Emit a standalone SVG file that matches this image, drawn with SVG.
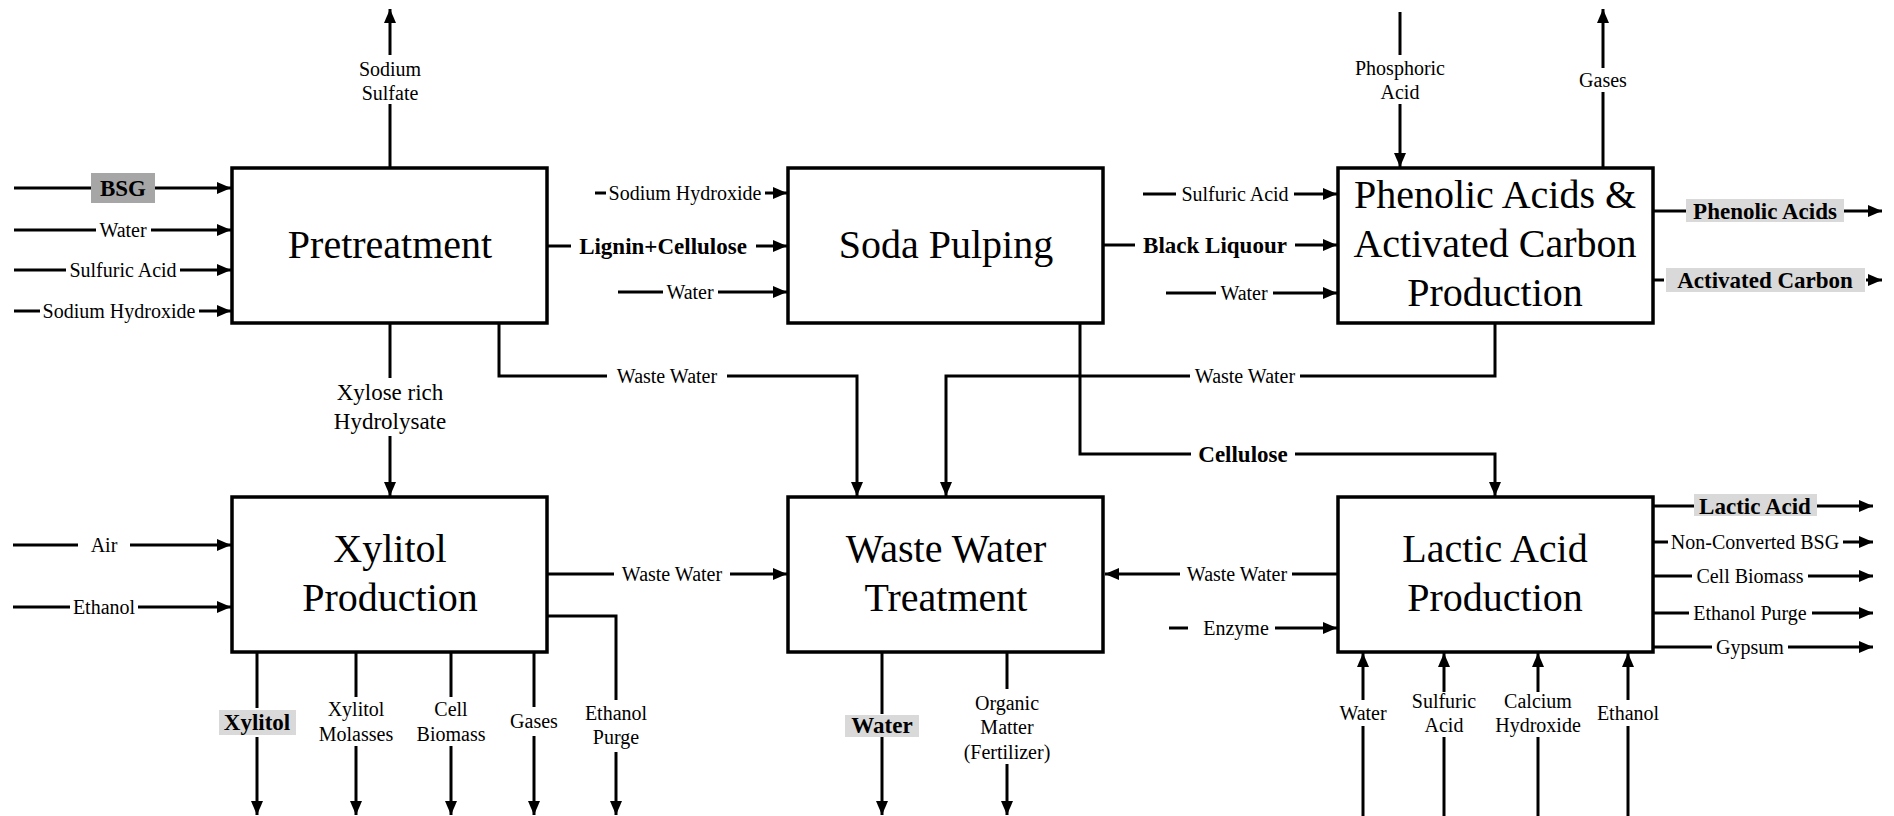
<svg xmlns="http://www.w3.org/2000/svg" width="1894" height="816" viewBox="0 0 1894 816">
<style>
text{font-family:"Liberation Serif","Times New Roman",serif;fill:#000;text-anchor:middle}
.lb{font-size:20px}
.xl{font-size:23px}
.bd{font-size:23px;font-weight:bold}
.tt{font-size:40px}
.box{fill:#fff;stroke:#000;stroke-width:3.5}
.c path,.c line{fill:none;stroke:#000;stroke-width:3}
.hl{fill:#d9d9d9}
.hd{fill:#a6a6a6}
</style>
<defs>
<marker id="a" viewBox="0 0 14 12" refX="14" refY="6" markerWidth="14" markerHeight="12" orient="auto" markerUnits="userSpaceOnUse">
<path d="M0,0L14,6L0,12Z" fill="#000"/>
</marker>
</defs>
<g id="connectors" class="c">
<line x1="14" y1="188" x2="91" y2="188"/><line x1="155" y1="188" x2="231" y2="188" marker-end="url(#a)"/>
<line x1="14" y1="230" x2="96" y2="230"/><line x1="151" y1="230" x2="231" y2="230" marker-end="url(#a)"/>
<line x1="14" y1="270" x2="66" y2="270"/><line x1="180" y1="270" x2="231" y2="270" marker-end="url(#a)"/>
<line x1="14" y1="311" x2="40" y2="311"/><line x1="199" y1="311" x2="231" y2="311" marker-end="url(#a)"/>
<line x1="390" y1="167" x2="390" y2="104"/><line x1="390" y1="55" x2="390" y2="9" marker-end="url(#a)"/>
<line x1="548" y1="246" x2="571" y2="246"/><line x1="756" y1="246" x2="787" y2="246" marker-end="url(#a)"/>
<line x1="595" y1="193" x2="606" y2="193"/><line x1="765" y1="193" x2="787" y2="193" marker-end="url(#a)"/>
<line x1="618" y1="292" x2="663" y2="292"/><line x1="718" y1="292" x2="787" y2="292" marker-end="url(#a)"/>
<line x1="1104" y1="245" x2="1135" y2="245"/><line x1="1295" y1="245" x2="1337" y2="245" marker-end="url(#a)"/>
<line x1="1143" y1="194" x2="1176" y2="194"/><line x1="1294" y1="194" x2="1337" y2="194" marker-end="url(#a)"/>
<line x1="1166" y1="293" x2="1216" y2="293"/><line x1="1273" y1="293" x2="1337" y2="293" marker-end="url(#a)"/>
<line x1="1400" y1="12" x2="1400" y2="55"/><line x1="1400" y1="104" x2="1400" y2="167" marker-end="url(#a)"/>
<line x1="1603" y1="167" x2="1603" y2="92"/><line x1="1603" y1="68" x2="1603" y2="9" marker-end="url(#a)"/>
<line x1="1654" y1="211" x2="1686" y2="211"/><line x1="1844" y1="211" x2="1882" y2="211" marker-end="url(#a)"/>
<line x1="1654" y1="280" x2="1664" y2="280"/><line x1="1866" y1="280" x2="1882" y2="280" marker-end="url(#a)"/>
<line x1="390" y1="324" x2="390" y2="378"/><line x1="390" y1="436" x2="390" y2="496" marker-end="url(#a)"/>
<path d="M499,324V376H607"/><path d="M727,376H857V496" marker-end="url(#a)"/>
<path d="M1495,324V376H1300"/><path d="M1190,376H946V496" marker-end="url(#a)"/>
<path d="M1080,324V454H1191"/><path d="M1295,454H1495V496" marker-end="url(#a)"/>
<line x1="13" y1="545" x2="78" y2="545"/><line x1="130" y1="545" x2="231" y2="545" marker-end="url(#a)"/>
<line x1="13" y1="607" x2="70" y2="607"/><line x1="138" y1="607" x2="231" y2="607" marker-end="url(#a)"/>
<line x1="548" y1="574" x2="614" y2="574"/><line x1="730" y1="574" x2="787" y2="574" marker-end="url(#a)"/>
<path d="M548,616H616V700"/><line x1="616" y1="752" x2="616" y2="815" marker-end="url(#a)"/>
<line x1="257" y1="653" x2="257" y2="708"/><line x1="257" y1="737" x2="257" y2="815" marker-end="url(#a)"/>
<line x1="356" y1="653" x2="356" y2="697"/><line x1="356" y1="746" x2="356" y2="815" marker-end="url(#a)"/>
<line x1="451" y1="653" x2="451" y2="697"/><line x1="451" y1="746" x2="451" y2="815" marker-end="url(#a)"/>
<line x1="534" y1="653" x2="534" y2="707"/><line x1="534" y1="736" x2="534" y2="815" marker-end="url(#a)"/>
<line x1="882" y1="653" x2="882" y2="714"/><line x1="882" y1="737" x2="882" y2="815" marker-end="url(#a)"/>
<line x1="1007" y1="653" x2="1007" y2="689"/><line x1="1007" y1="764" x2="1007" y2="815" marker-end="url(#a)"/>
<line x1="1337" y1="574" x2="1292" y2="574"/><line x1="1180" y1="574" x2="1105" y2="574" marker-end="url(#a)"/>
<line x1="1169" y1="628" x2="1188" y2="628"/><line x1="1275" y1="628" x2="1337" y2="628" marker-end="url(#a)"/>
<line x1="1363" y1="816" x2="1363" y2="726"/><line x1="1363" y1="700" x2="1363" y2="653" marker-end="url(#a)"/>
<line x1="1444" y1="816" x2="1444" y2="737"/><line x1="1444" y1="692" x2="1444" y2="653" marker-end="url(#a)"/>
<line x1="1538" y1="816" x2="1538" y2="737"/><line x1="1538" y1="692" x2="1538" y2="653" marker-end="url(#a)"/>
<line x1="1628" y1="816" x2="1628" y2="726"/><line x1="1628" y1="700" x2="1628" y2="653" marker-end="url(#a)"/>
<line x1="1654" y1="506" x2="1694" y2="506"/><line x1="1817" y1="506" x2="1873" y2="506" marker-end="url(#a)"/>
<line x1="1654" y1="542" x2="1668" y2="542"/><line x1="1843" y1="542" x2="1873" y2="542" marker-end="url(#a)"/>
<line x1="1654" y1="576" x2="1692" y2="576"/><line x1="1808" y1="576" x2="1873" y2="576" marker-end="url(#a)"/>
<line x1="1654" y1="613" x2="1689" y2="613"/><line x1="1812" y1="613" x2="1873" y2="613" marker-end="url(#a)"/>
<line x1="1654" y1="647" x2="1712" y2="647"/><line x1="1788" y1="647" x2="1873" y2="647" marker-end="url(#a)"/>
</g>
<g id="labels">
<rect class="hd" x="91" y="173" width="64" height="30"/>
<text class="bd" x="123" y="196">BSG</text>
<text class="lb" x="123" y="237">Water</text>
<text class="lb" x="123" y="277">Sulfuric Acid</text>
<text class="lb" x="119" y="318">Sodium Hydroxide</text>
<text class="lb" x="390" y="76">Sodium</text>
<text class="lb" x="390" y="100">Sulfate</text>
<text class="bd" x="663" y="254">Lignin+Cellulose</text>
<text class="lb" x="685" y="200">Sodium Hydroxide</text>
<text class="lb" x="690" y="299">Water</text>
<text class="bd" x="1215" y="253">Black Liquour</text>
<text class="lb" x="1235" y="201">Sulfuric Acid</text>
<text class="lb" x="1244" y="300">Water</text>
<text class="lb" x="1400" y="75">Phosphoric</text>
<text class="lb" x="1400" y="99">Acid</text>
<text class="lb" x="1603" y="87">Gases</text>
<rect class="hl" x="1686" y="199" width="158" height="23"/>
<text class="bd" x="1765" y="219">Phenolic Acids</text>
<rect class="hl" x="1666" y="268" width="199" height="24"/>
<text class="bd" x="1765" y="288">Activated Carbon</text>
<text class="xl" x="390" y="400">Xylose rich</text>
<text class="xl" x="390" y="429">Hydrolysate</text>
<text class="lb" x="667" y="383">Waste Water</text>
<text class="lb" x="1245" y="383">Waste Water</text>
<text class="bd" x="1243" y="462">Cellulose</text>
<text class="lb" x="104" y="552">Air</text>
<text class="lb" x="104" y="614">Ethanol</text>
<text class="lb" x="672" y="581">Waste Water</text>
<rect class="hl" x="219" y="710" width="77" height="25"/>
<text class="bd" x="257" y="730">Xylitol</text>
<text class="lb" x="356" y="716">Xylitol</text>
<text class="lb" x="356" y="741">Molasses</text>
<text class="lb" x="451" y="716">Cell</text>
<text class="lb" x="451" y="741">Biomass</text>
<text class="lb" x="534" y="728">Gases</text>
<text class="lb" x="616" y="720">Ethanol</text>
<text class="lb" x="616" y="744">Purge</text>
<rect class="hl" x="845" y="715" width="74" height="22"/>
<text class="bd" x="882" y="733">Water</text>
<text class="lb" x="1007" y="710">Organic</text>
<text class="lb" x="1007" y="734">Matter</text>
<text class="lb" x="1007" y="759">(Fertilizer)</text>
<text class="lb" x="1237" y="581">Waste Water</text>
<text class="lb" x="1236" y="635">Enzyme</text>
<text class="lb" x="1363" y="720">Water</text>
<text class="lb" x="1444" y="708">Sulfuric</text>
<text class="lb" x="1444" y="732">Acid</text>
<text class="lb" x="1538" y="708">Calcium</text>
<text class="lb" x="1538" y="732">Hydroxide</text>
<text class="lb" x="1628" y="720">Ethanol</text>
<rect class="hl" x="1694" y="494" width="123" height="22"/>
<text class="bd" x="1755" y="514">Lactic Acid</text>
<text class="lb" x="1755" y="549">Non-Converted BSG</text>
<text class="lb" x="1750" y="583">Cell Biomass</text>
<text class="lb" x="1750" y="620">Ethanol Purge</text>
<text class="lb" x="1750" y="654">Gypsum</text>
</g>
<g id="pretreatment">
<rect class="box" x="232" y="168" width="315" height="155"/>
<text class="tt" x="390" y="258">Pretreatment</text>
</g>
<g id="soda-pulping">
<rect class="box" x="788" y="168" width="315" height="155"/>
<text class="tt" x="946" y="258">Soda Pulping</text>
</g>
<g id="phenolic">
<rect class="box" x="1338" y="168" width="315" height="155"/>
<text class="tt" x="1495" y="208">Phenolic Acids &amp;</text>
<text class="tt" x="1495" y="257">Activated Carbon</text>
<text class="tt" x="1495" y="306">Production</text>
</g>
<g id="xylitol">
<rect class="box" x="232" y="497" width="315" height="155"/>
<text class="tt" x="390" y="562">Xylitol</text>
<text class="tt" x="390" y="611">Production</text>
</g>
<g id="wwt">
<rect class="box" x="788" y="497" width="315" height="155"/>
<text class="tt" x="946" y="562">Waste Water</text>
<text class="tt" x="946" y="611">Treatment</text>
</g>
<g id="lactic">
<rect class="box" x="1338" y="497" width="315" height="155"/>
<text class="tt" x="1495" y="562">Lactic Acid</text>
<text class="tt" x="1495" y="611">Production</text>
</g>
</svg>
